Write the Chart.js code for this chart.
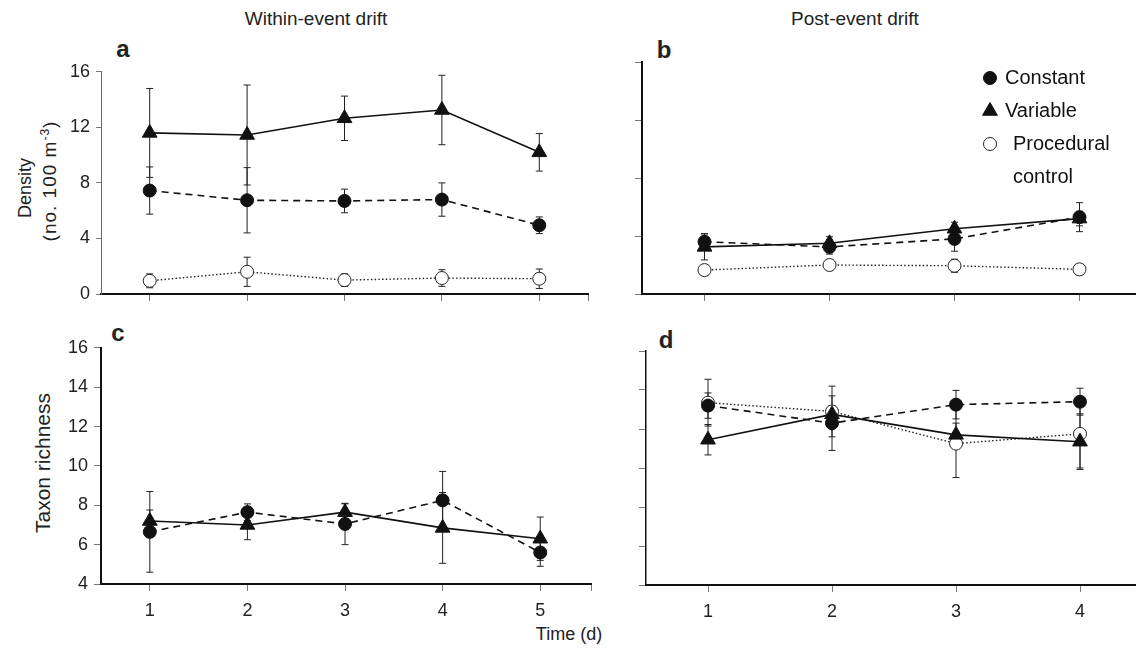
<!DOCTYPE html>
<html>
<head>
<meta charset="utf-8">
<script src="https://cdn.jsdelivr.net/npm/chart.js@4.4.1/dist/chart.umd.min.js"></script>
<style>
  html, body { margin: 0; padding: 0; background: #fff; }
  body { width: 1136px; height: 653px; position: relative; overflow: hidden;
         font-family: "Liberation Sans", Arial, sans-serif; color: #222; }
  canvas { position: absolute; }
  .txt { position: absolute; white-space: nowrap; line-height: 1; }
  .head { font-size: 19px; transform: translate(-50%, -50%); }
  .letter { font-size: 24px; font-weight: bold; transform: translate(-50%, -50%); }
  .rot { font-size: 19px; transform: translate(-50%, -50%) rotate(-90deg); }
  .rot sup { font-size: 12px; vertical-align: 7px; line-height: 0; }
  .xtitle { font-size: 18px; transform: translate(-50%, -50%); }
</style>
</head>
<body>

<div class="txt head" style="left:316px; top:18px;">Within-event drift</div>
<div class="txt head" style="left:855px; top:18px;">Post-event drift</div>

<div class="txt letter" style="left:123px; top:49px;">a</div>
<div class="txt letter" style="left:664px; top:50px;">b</div>
<div class="txt letter" style="left:118px; top:333px;">c</div>
<div class="txt letter" style="left:666px; top:340px;">d</div>

<div class="txt rot" style="left:25px; top:188px; font-size:18px;">Density</div>
<div class="txt rot" style="left:49px; top:181px; letter-spacing:1px;">(no. 100 m<sup>-3</sup>)</div>
<div class="txt rot" style="left:42px; top:463px; font-size:21px;">Taxon richness</div>
<div class="txt xtitle" style="left:569px; top:634px;">Time (d)</div>

<canvas id="panelA"></canvas>
<canvas id="panelB"></canvas>
<canvas id="panelC"></canvas>
<canvas id="panelD"></canvas>

<script>
// sampling days
var withinDays = [1, 2, 3, 4, 5];
var postDays = [1, 2, 3, 4];

// a: density, within-event drift (mean and SE)
var densConst = [7.45, 6.75, 6.7, 6.8, 4.95];
var densConstErr = [1.7, 2.35, 0.85, 1.2, 0.6];
var densVar = [11.6, 11.45, 12.65, 13.25, 10.2];
var densVarErr = [3.2, 3.6, 1.6, 2.5, 1.35];
var densCtrl = [0.95, 1.6, 1.0, 1.15, 1.1];
var densCtrlErr = [0.5, 1.05, 0.45, 0.6, 0.7];

// b: density, post-event drift
var postDensConst = [3.6, 3.25, 3.8, 5.3];
var postDensConstErr = [0.55, 0.5, 0.85, 1.0];
var postDensVar = [3.25, 3.5, 4.5, 5.2];
var postDensVarErr = [0.9, 0.45, 0.45, 0.5];
var postDensCtrl = [1.65, 2.0, 1.95, 1.7];
var postDensCtrlErr = [0.2, 0.2, 0.45, 0.2];

// c: taxon richness, within-event drift
var richConst = [6.65, 7.65, 7.05, 8.25, 5.6];
var richConstErr = [2.05, 0.42, 1.05, 1.47, 0.7];
var richVar = [7.2, 7.0, 7.65, 6.85, 6.3];
var richVarErr = [0.56, 0.75, 0.42, 1.8, 1.1];

// d: taxon richness, post-event drift
var postRichConst = [13.2, 12.3, 13.25, 13.4];
var postRichConstErr = [0.65, 1.4, 0.73, 0.69];
var postRichVar = [11.45, 12.75, 11.7, 11.35];
var postRichVarErr = [0.78, 0.45, 0.6, 1.43];
var postRichCtrl = [13.35, 12.9, 11.25, 11.75];
var postRichCtrlErr = [1.2, 1.3, 1.74, 1.75];

var legendLabels = [['Constant'], ['Variable'], ['Procedural', 'control']];

var FONT = '"Liberation Sans", Arial, sans-serif';
var PAD_L = 70, PAD_T = 14, PAD_R = 12, PAD_B = 45;

function pts(days, vals) {
    return days.map(function(d, i) { return { x: d, y: vals[i] }; });
}

function constSet(days, vals, err) {
    return {
        label: 'Constant', data: pts(days, vals), err: err,
        borderColor: '#111', borderWidth: 1.6, borderDash: [7, 5],
        pointStyle: 'circle', pointRadius: 6.5,
        pointBackgroundColor: '#111', pointBorderColor: '#111', pointBorderWidth: 1,
        tension: 0, clip: false
    };
}
function varSet(days, vals, err) {
    return {
        label: 'Variable', data: pts(days, vals), err: err,
        borderColor: '#111', borderWidth: 1.6,
        pointStyle: 'triangle', pointRadius: 8.5,
        pointBackgroundColor: '#111', pointBorderColor: '#111', pointBorderWidth: 1,
        tension: 0, clip: false
    };
}
function ctrlSet(days, vals, err) {
    return {
        label: 'Procedural control', data: pts(days, vals), err: err,
        borderColor: '#222', borderWidth: 1.4, borderDash: [1.5, 2.2],
        pointStyle: 'circle', pointRadius: 6.5,
        pointBackgroundColor: '#fff', pointBorderColor: '#222', pointBorderWidth: 1,
        tension: 0, clip: false
    };
}

// vertical error bars with small caps, drawn under the markers
var errorBars = {
    id: 'errorBars',
    beforeDatasetsDraw: function(chart) {
        var ctx = chart.ctx;
        var ys = chart.scales.y;
        ctx.save();
        ctx.strokeStyle = '#222';
        ctx.lineWidth = 1;
        chart.data.datasets.forEach(function(ds, i) {
            var meta = chart.getDatasetMeta(i);
            meta.data.forEach(function(pt, j) {
                var v = ds.data[j].y, e = ds.err[j];
                var top = ys.getPixelForValue(v + e);
                var bot = ys.getPixelForValue(v - e);
                ctx.beginPath();
                ctx.moveTo(pt.x, top); ctx.lineTo(pt.x, bot);
                ctx.moveTo(pt.x - 3.5, top); ctx.lineTo(pt.x + 3.5, top);
                ctx.moveTo(pt.x - 3.5, bot); ctx.lineTo(pt.x + 3.5, bot);
                ctx.stroke();
            });
        });
        ctx.restore();
    }
};

// symbol key inside panel b
var symbolKey = {
    id: 'symbolKey',
    afterDraw: function(chart) {
        var ctx = chart.ctx;
        var area = chart.chartArea;
        var x0 = area.left + 348;
        var y0 = area.top + 16;
        var row = 33;
        ctx.save();
        ctx.font = '20px ' + FONT;
        ctx.textBaseline = 'middle';
        var line = 0;
        chart.data.datasets.forEach(function(ds, i) {
            var y = y0 + line * row;
            ctx.fillStyle = ds.pointBackgroundColor;
            ctx.strokeStyle = ds.pointBorderColor;
            ctx.lineWidth = 1;
            Chart.helpers.drawPoint(ctx, {
                pointStyle: ds.pointStyle, radius: ds.pointRadius, rotation: 0, borderWidth: 1
            }, x0, y);
            ctx.fillStyle = '#111';
            var lines = legendLabels[i];
            var tx = lines.length > 1 ? x0 + 23 : x0 + 15;
            lines.forEach(function(t) {
                ctx.fillText(t, tx, y0 + line * row);
                line++;
            });
        });
        ctx.restore();
    }
};

function makePanel(id, area, cfg) {
    var cv = document.getElementById(id);
    var w = PAD_L + area.width + PAD_R;
    var h = PAD_T + area.height + PAD_B;
    cv.width = w; cv.height = h;
    cv.style.left = (area.left - PAD_L) + 'px';
    cv.style.top = (area.top - PAD_T) + 'px';
    cv.style.width = w + 'px'; cv.style.height = h + 'px';

    var xTicks = cfg.days.concat([cfg.xMax]);

    new Chart(cv.getContext('2d'), {
        type: 'line',
        data: { datasets: cfg.datasets },
        options: {
            responsive: false,
            animation: false,
            devicePixelRatio: 1,
            layout: { padding: { top: PAD_T, right: PAD_R, left: 0, bottom: 0 } },
            plugins: { legend: { display: false }, tooltip: { enabled: false } },
            scales: {
                x: {
                    type: 'linear', min: cfg.xMin, max: cfg.xMax,
                    afterBuildTicks: function(s) {
                        s.ticks = xTicks.map(function(v) { return { value: v }; });
                    },
                    afterFit: function(s) { s.height = PAD_B; },
                    grid: { drawOnChartArea: false, tickLength: 7, color: '#777', lineWidth: 1 },
                    border: { color: '#111', width: 2 },
                    ticks: {
                        display: cfg.xLabels, padding: 9, color: '#222',
                        font: { family: FONT, size: 18 },
                        callback: function(v) { return Number.isInteger(v) ? v : ''; }
                    }
                },
                y: {
                    min: cfg.yMin, max: cfg.yMax,
                    afterFit: function(s) { s.width = PAD_L; },
                    grid: { drawOnChartArea: false, tickLength: cfg.yTickLen, color: '#777', lineWidth: 1 },
                    border: { color: cfg.yBorderColor, width: cfg.yBorderWidth },
                    ticks: {
                        display: cfg.yLabels, stepSize: cfg.yStep, padding: 6, color: '#222',
                        font: { family: FONT, size: 18 }
                    }
                }
            }
        },
        plugins: cfg.plugins
    });
}

makePanel('panelA', { left: 101, top: 69, width: 487, height: 225 }, {
    days: withinDays, xMin: 0.5, xMax: 5.5, xLabels: false,
    yMin: 0, yMax: 16, yStep: 4, yLabels: true, yTickLen: 5,
    yBorderColor: '#666', yBorderWidth: 1,
    datasets: [
        constSet(withinDays, densConst, densConstErr),
        varSet(withinDays, densVar, densVarErr),
        ctrlSet(withinDays, densCtrl, densCtrlErr)
    ],
    plugins: [errorBars]
});

makePanel('panelB', { left: 642, top: 62, width: 500, height: 232 }, {
    days: postDays, xMin: 0.5, xMax: 4.5, xLabels: false,
    yMin: 0, yMax: 16, yStep: 4, yLabels: false, yTickLen: 7,
    yBorderColor: '#111', yBorderWidth: 2,
    datasets: [
        constSet(postDays, postDensConst, postDensConstErr),
        varSet(postDays, postDensVar, postDensVarErr),
        ctrlSet(postDays, postDensCtrl, postDensCtrlErr)
    ],
    plugins: [errorBars, symbolKey]
});

makePanel('panelC', { left: 101, top: 345, width: 490, height: 239 }, {
    days: withinDays, xMin: 0.5, xMax: 5.52, xLabels: true,
    yMin: 4, yMax: 16, yStep: 2, yLabels: true, yTickLen: 7,
    yBorderColor: '#111', yBorderWidth: 2,
    datasets: [
        constSet(withinDays, richConst, richConstErr),
        varSet(withinDays, richVar, richVarErr)
    ],
    plugins: [errorBars]
});

makePanel('panelD', { left: 646, top: 351, width: 496, height: 234 }, {
    days: postDays, xMin: 0.5, xMax: 4.5, xLabels: true,
    yMin: 4, yMax: 16, yStep: 2, yLabels: false, yTickLen: 7,
    yBorderColor: '#111', yBorderWidth: 1.5,
    datasets: [
        constSet(postDays, postRichConst, postRichConstErr),
        varSet(postDays, postRichVar, postRichVarErr),
        ctrlSet(postDays, postRichCtrl, postRichCtrlErr)
    ],
    plugins: [errorBars]
});
</script>
</body>
</html>
